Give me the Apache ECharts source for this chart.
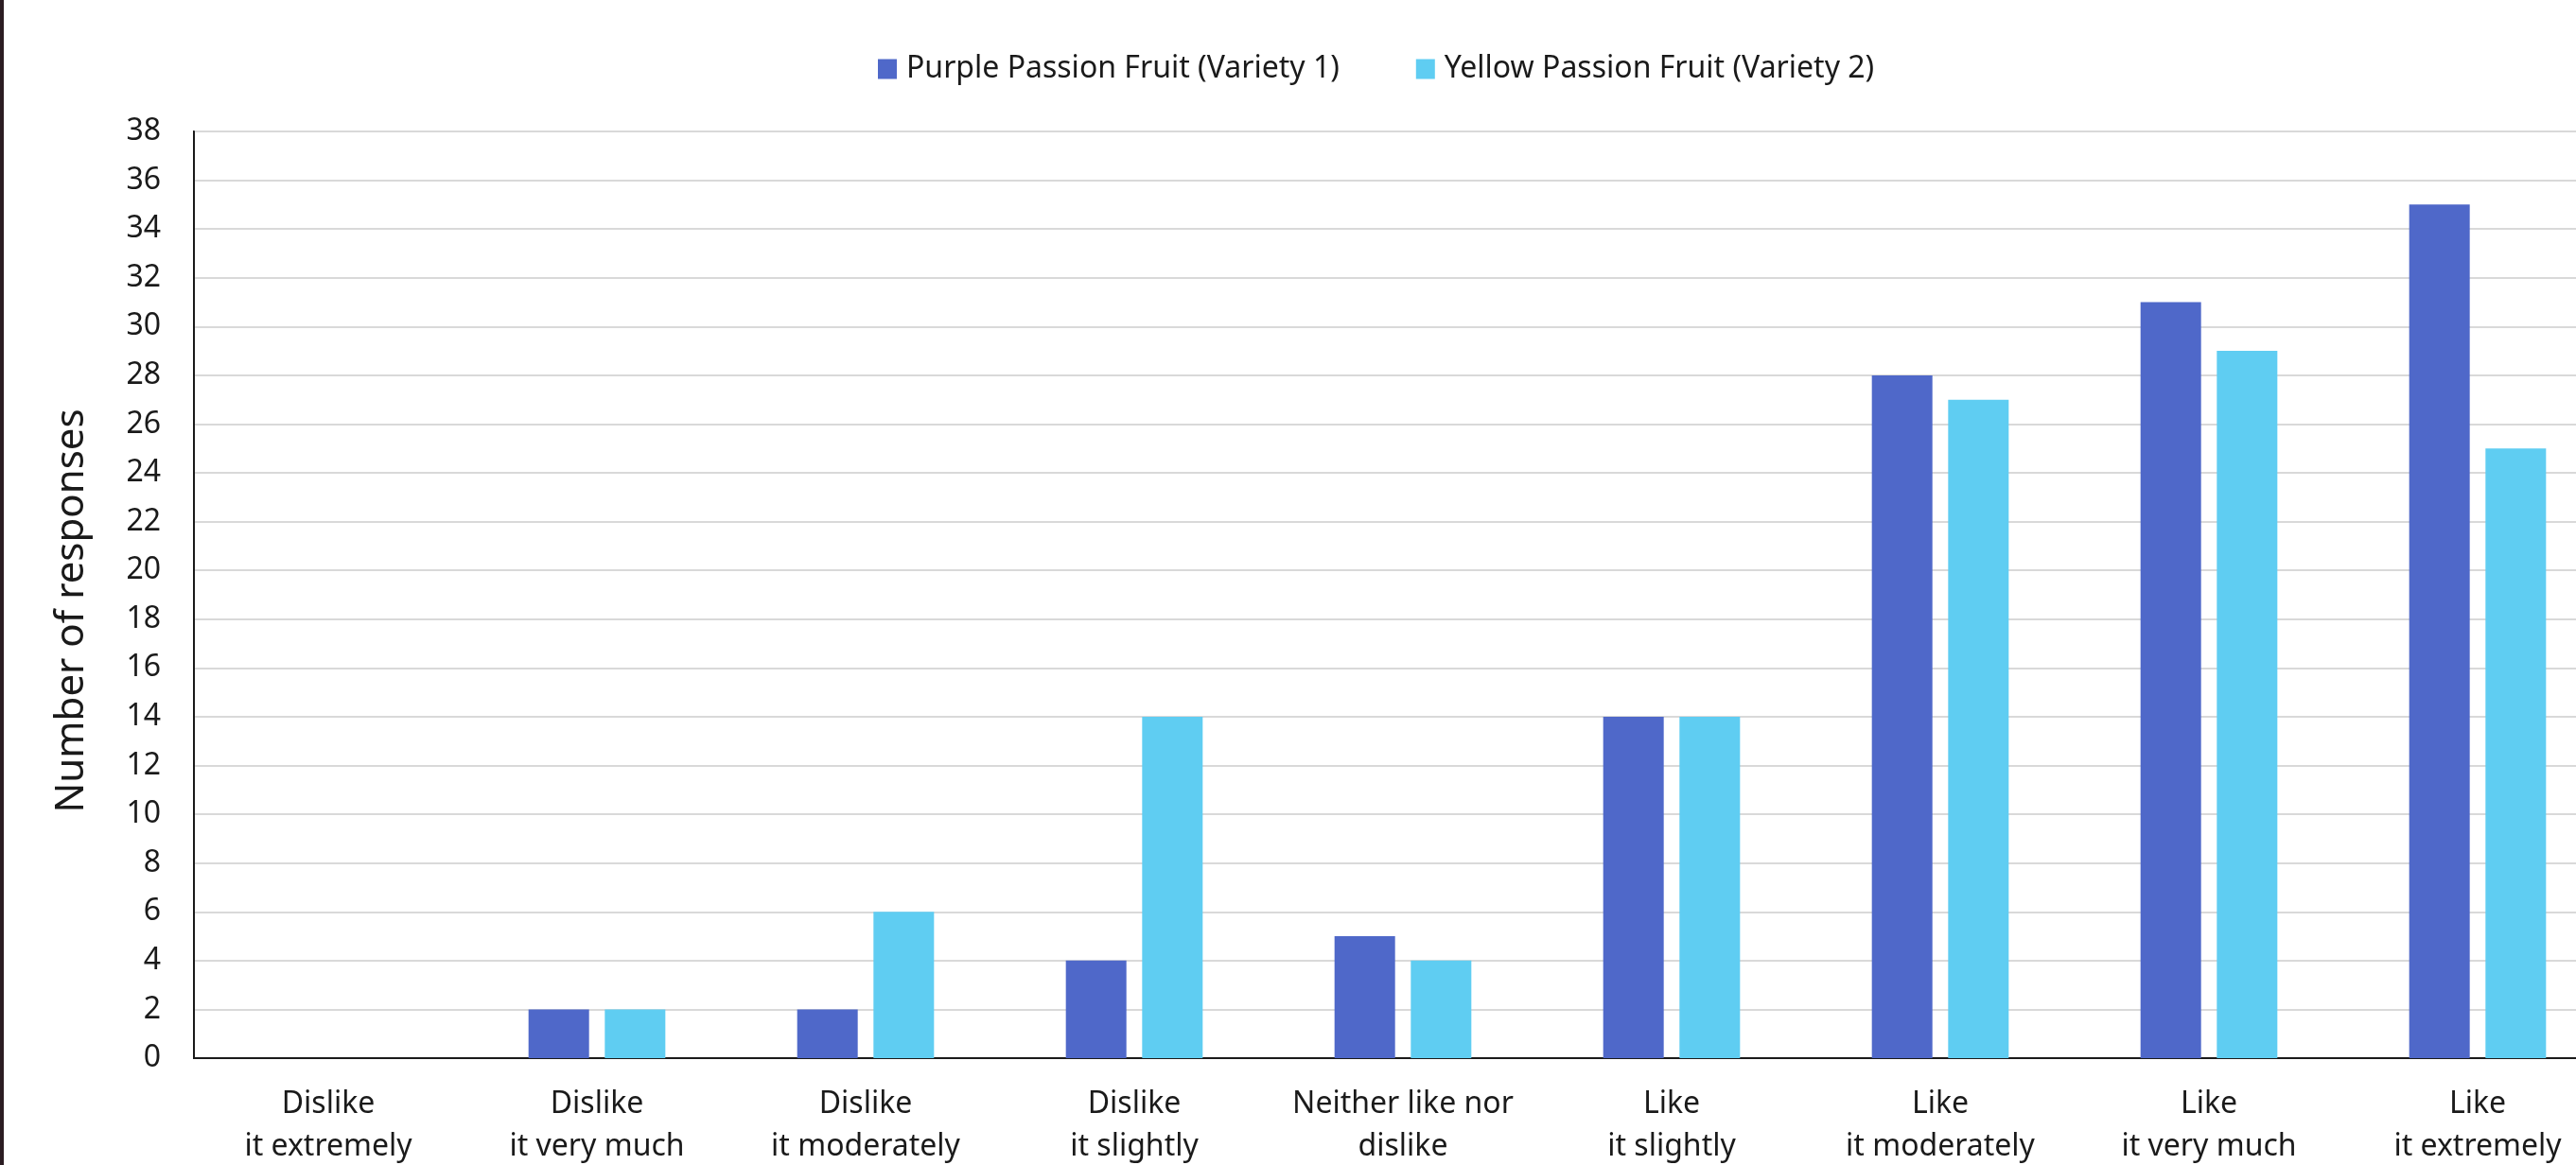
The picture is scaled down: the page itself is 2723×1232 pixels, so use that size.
<!DOCTYPE html>
<html>
<head>
<meta charset="utf-8">
<script src="https://cdn.jsdelivr.net/npm/echarts@6/dist/echarts.min.js"></script>
<style>
  html, body { margin: 0; padding: 0; background: #fff; }
  #chart { width: 2723px; height: 1232px; }
</style>
</head>
<body>
<div id="chart"></div>
<script>
// 数据区 - 从图上读出来的值
const categories = [
  'Dislike\nit extremely', 'Dislike\nit very much', 'Dislike\nit moderately',
  'Dislike\nit slightly', 'Neither like nor\ndislike', 'Like\nit slightly',
  'Like\nit moderately', 'Like\nit very much', 'Like\nit extremely'
];
const purpleName = 'Purple Passion Fruit (Variety 1)';
const yellowName = 'Yellow Passion Fruit (Variety 2)';
const purpleValues = [0, 2, 2, 4, 5, 14, 28, 31, 35];
const yellowValues = [0, 2, 6, 14, 4, 14, 27, 29, 25];
const yTicks = { min: 0, max: 38, step: 2 };

const font = 'Noto Sans';

const option = {
  animation: false,
  backgroundColor: '#fff',
  textStyle: { fontFamily: font },
  // 左边那条深色边
  graphic: [{
    type: 'rect', left: 0, top: 0,
    shape: { width: 4, height: 1232 },
    style: { fill: '#2b1c22' }
  }],
  legend: {
    data: [purpleName, yellowName],
    left: 923, top: 52,
    icon: 'rect', itemWidth: 20, itemHeight: 21, itemGap: 81,
    textStyle: { fontSize: 32, color: '#1a1a1a', padding: [0, 0, 0, 5] }
  },
  // 原图右边被裁掉了,所以网格故意超出画布
  grid: {
    left: 205, top: 139, width: 2556, height: 980,
    outerBoundsMode: 'none',
    show: true, borderColor: '#404040', borderWidth: 2
  },
  xAxis: {
    type: 'category',
    data: categories,
    axisTick: { show: false },
    axisLine: { lineStyle: { color: '#1a1a1a', width: 2 } },
    axisLabel: { interval: 0, fontSize: 32, lineHeight: 45, color: '#1a1a1a', margin: 26 }
  },
  yAxis: {
    type: 'value',
    min: yTicks.min, max: yTicks.max, interval: yTicks.step,
    name: 'Number of responses',
    nameLocation: 'middle', nameGap: 108,
    nameTextStyle: { fontSize: 42, color: '#1a1a1a', padding: [0, 34, 0, 0] },
    axisLine: { show: true, lineStyle: { color: '#1a1a1a', width: 2 } },
    axisTick: { show: false },
    axisLabel: { fontSize: 32, color: '#1a1a1a', margin: 35 },
    splitLine: { lineStyle: { color: '#d9d9d9', width: 2 } }
  },
  series: [
    { name: purpleName, type: 'bar', data: purpleValues, barWidth: 64, barGap: '26%',
      itemStyle: { color: '#4f68c9' } },
    { name: yellowName, type: 'bar', data: yellowValues, barWidth: 64,
      itemStyle: { color: '#5fcdf2' } }
  ]
};

const myChart = echarts.init(document.getElementById('chart'));
myChart.setOption(option);
</script>
</body>
</html>
